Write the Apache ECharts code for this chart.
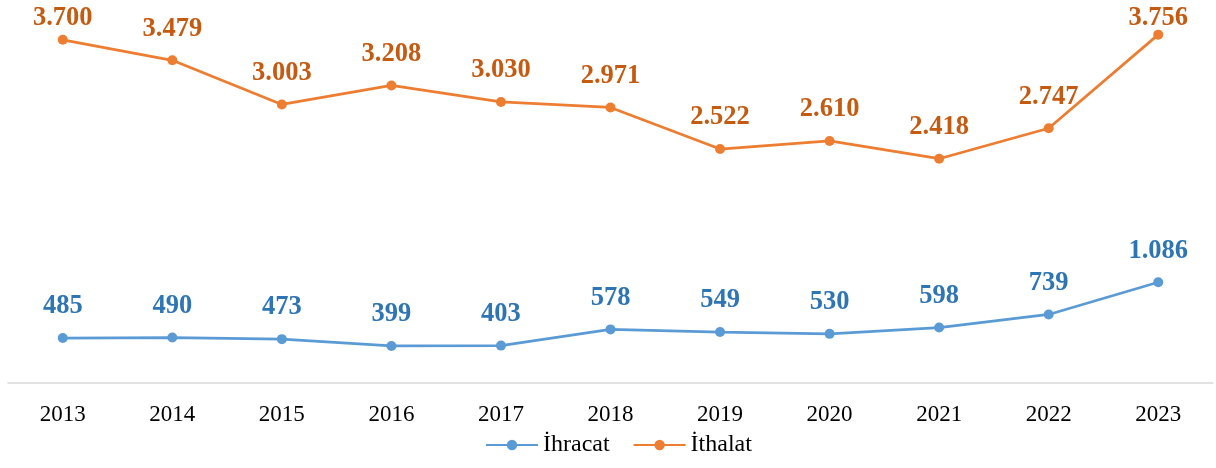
<!DOCTYPE html>
<html>
<head>
<meta charset="utf-8">
<script src="https://cdn.jsdelivr.net/npm/echarts@6/dist/echarts.min.js"></script>
<style>
  html, body { margin: 0; padding: 0; background: #ffffff; }
  #chart { width: 1216px; height: 468px; }
</style>
</head>
<body>
<div id="chart"></div>
<script>
// Yıllar
const years = ['2013', '2014', '2015', '2016', '2017', '2018', '2019', '2020', '2021', '2022', '2023'];
// İhracat değerleri
const ihracat = [485, 490, 473, 399, 403, 578, 549, 530, 598, 739, 1086];
// İthalat değerleri
const ithalat = [3700, 3479, 3003, 3208, 3030, 2971, 2522, 2610, 2418, 2747, 3756];

const serif = '"Liberation Serif", "Times New Roman", "DejaVu Serif", serif';

// Binlik ayırıcı olarak nokta kullan
function fmt(v) {
  return String(v).replace(/\B(?=(\d{3})+(?!\d))/g, '.');
}

// Etiketlerin grafik alanının üstünden taşmasını engelle
function keepInside(p) {
  const minTop = 5;
  if (p.labelRect.y < minTop) {
    return { dy: minTop - p.labelRect.y };
  }
  return {};
}

function lineSeries(name, data, lineColor, labelColor) {
  return {
    name: name,
    type: 'line',
    data: data,
    symbol: 'circle',
    symbolSize: 10,
    lineStyle: { color: lineColor, width: 2.75 },
    itemStyle: { color: lineColor },
    label: {
      show: true,
      position: 'top',
      distance: 13,
      color: labelColor,
      fontFamily: serif,
      fontWeight: 'bold',
      fontSize: 26.5,
      formatter: p => fmt(p.value)
    },
    labelLayout: keepInside,
    emphasis: { disabled: true },
    animation: false
  };
}

const chart = echarts.init(document.getElementById('chart'), null, { renderer: 'canvas' });
chart.setOption({
  backgroundColor: '#ffffff',
  animation: false,
  grid: { left: 8, right: 3, top: 12, bottom: 85, containLabel: false },
  legend: {
    top: 433,
    left: 485,
    padding: 0,
    itemWidth: 52,
    itemHeight: 13,
    itemGap: 23,
    textStyle: { fontFamily: serif, fontSize: 24, color: '#000000' },
    data: ['İhracat', 'İthalat']
  },
  xAxis: {
    type: 'category',
    data: years,
    boundaryGap: true,
    axisLine: { show: true, lineStyle: { color: '#d9d9d9', width: 1.5 } },
    axisTick: { show: false },
    axisLabel: { fontFamily: serif, fontSize: 23, color: '#000000', margin: 20 },
    splitLine: { show: false }
  },
  yAxis: {
    type: 'value',
    min: 0,
    max: 4000,
    show: false,
    splitLine: { show: false }
  },
  series: [
    lineSeries('İhracat', ihracat, '#5B9BD5', '#2E75B6'),
    lineSeries('İthalat', ithalat, '#ED7D31', '#C55A11')
  ]
});
</script>
</body>
</html>
